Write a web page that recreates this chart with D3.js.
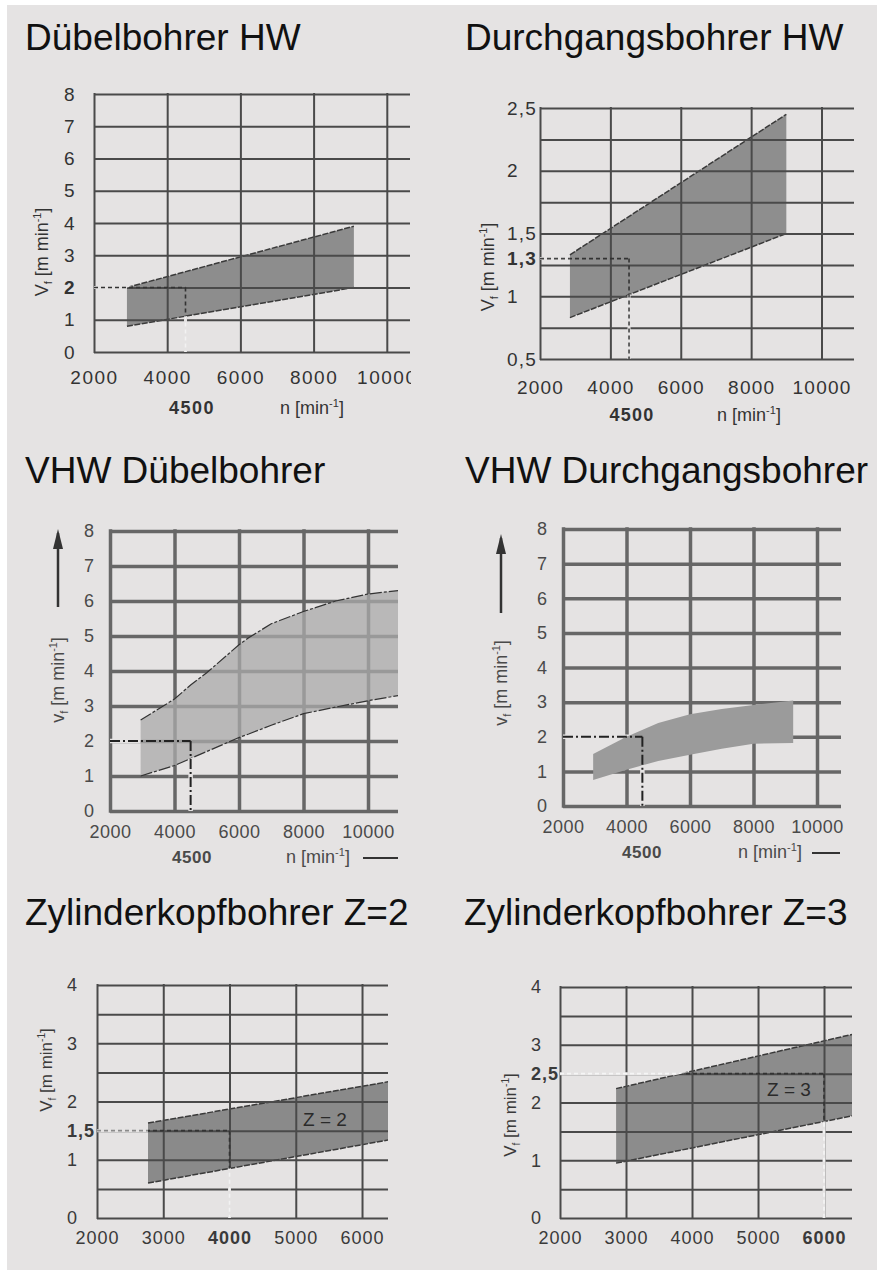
<!DOCTYPE html>
<html>
<head>
<meta charset="utf-8">
<script src="https://cdn.jsdelivr.net/npm/d3@7"></script>
<style>
  body { margin: 0; background: #fff; }
</style>
</head>
<body>
<svg id="chart" width="877" height="1270"></svg>
<script>
// ---- data ----
var xTicksWide = [2000, 4000, 6000, 8000, 10000];
var xTicksZyl = [2000, 3000, 4000, 5000, 6000];
var yGrid8 = [0, 1, 2, 3, 4, 5, 6, 7, 8];
var yGridDurch = [0.5, 0.75, 1, 1.25, 1.5, 1.75, 2, 2.25, 2.5];
var yLabelsDurch = [0.5, 1, 1.3, 1.5, 2, 2.5];
var yGridZyl = [0, 0.5, 1, 1.5, 2, 2.5, 3, 3.5, 4];
var yLabelsZyl2 = [0, 1, 1.5, 2, 3, 4];
var yLabelsZyl3 = [0, 1, 2, 2.5, 3, 4];

// Dübelbohrer HW
var duebelHW_n = [2900, 9100];
var duebelHW_lo = [0.8, 2.0];
var duebelHW_hi = [2.0, 3.9];
// Durchgangsbohrer HW
var durchHW_n = [2850, 9000];
var durchHW_lo = [0.83, 1.5];
var durchHW_hi = [1.33, 2.45];
// VHW Dübelbohrer
var vhwDuebel_n = [2950, 4000, 4500, 5000, 6000, 6300, 7000, 8000, 9000, 10000, 10950];
var vhwDuebel_lo = [1.0, 1.3, 1.5, 1.7, 2.1, 2.2, 2.45, 2.78, 2.97, 3.15, 3.3];
var vhwDuebel_hi = [2.6, 3.2, 3.6, 3.95, 4.75, 4.95, 5.35, 5.7, 6.0, 6.2, 6.3];
// VHW Durchgangsbohrer
var vhwDurch_n = [2950, 4000, 5000, 6000, 7000, 8000, 9250];
var vhwDurch_lo = [0.75, 1.05, 1.3, 1.48, 1.65, 1.8, 1.82];
var vhwDurch_hi = [1.5, 2.0, 2.4, 2.65, 2.8, 2.92, 3.05];
// Zylinderkopfbohrer Z=2
var zyl2_n = [2770, 6400];
var zyl2_lo = [0.6, 1.34];
var zyl2_hi = [1.63, 2.34];
// Zylinderkopfbohrer Z=3
var zyl3_n = [2850, 6430];
var zyl3_lo = [0.95, 1.77];
var zyl3_hi = [2.24, 3.18];

var FONT = "'Liberation Sans', Arial, Helvetica, sans-serif";
var BG = "#e5e3e3";

var svg = d3.select("#chart");
var defs = svg.append("defs");

// arrow head for the v_f axis arrow
defs.append("marker")
    .attr("id", "arrowhead")
    .attr("viewBox", "0 0 20 10")
    .attr("refX", 16).attr("refY", 5)
    .attr("markerWidth", 20).attr("markerHeight", 10)
    .attr("markerUnits", "userSpaceOnUse")
    .attr("orient", "auto")
    .append("path")
    .attr("d", "M0,0 L20,5 L0,10 Z")
    .attr("fill", "#333");

// background
svg.append("rect").attr("x", 0).attr("y", 0).attr("width", 877).attr("height", 1270).attr("fill", "#fff");
svg.append("rect").attr("x", 7).attr("y", 5).attr("width", 870).attr("height", 1265).attr("fill", BG);

function fmtComma(d) { return String(d).replace(".", ","); }

function drawPanel(p) {
    var x = d3.scaleLinear().domain(p.xDomain).range([p.left, p.right]);
    var y = d3.scaleLinear().domain(p.yDomain).range([p.bottom, p.top]);
    var g = svg.append("g");

    // title
    g.append("text")
        .attr("x", p.titleX).attr("y", p.titleY)
        .attr("font-family", FONT).attr("font-size", 37)
        .attr("fill", "#111")
        .text(p.title);

    var band = p.n.map(function(n, i) { return {n: n, lo: p.lo[i], hi: p.hi[i]}; });
    var area = d3.area()
        .x(function(d) { return x(d.n); })
        .y0(function(d) { return y(d.lo); })
        .y1(function(d) { return y(d.hi); });

    var plotClip = "plot" + p.id, bandClip = "band" + p.id, outMask = "out" + p.id;
    defs.append("clipPath").attr("id", plotClip).append("rect")
        .attr("x", p.left).attr("y", p.top - 3)
        .attr("width", p.right - p.left).attr("height", p.bottom - p.top + 6);
    defs.append("clipPath").attr("id", bandClip).append("path").attr("d", area(band));
    var m = defs.append("mask").attr("id", outMask)
        .attr("maskUnits", "userSpaceOnUse")
        .attr("x", 0).attr("y", 0).attr("width", 877).attr("height", 1270);
    m.append("rect").attr("width", 877).attr("height", 1270).attr("fill", "#fff");
    m.append("path").attr("d", area(band)).attr("fill", "#000");

    function grid() {
        var gy = g.append("g")
            .attr("transform", "translate(" + p.left + ",0)")
            .call(d3.axisLeft(y).tickValues(p.yGrid).tickSize(-(p.right - p.left)).tickFormat(""));
        gy.select(".domain").remove();
        gy.selectAll("line").attr("stroke", p.gridColor).attr("stroke-width", p.gridWidth);
        var gx = g.append("g")
            .attr("transform", "translate(0," + p.bottom + ")")
            .call(d3.axisBottom(x).tickValues(p.xTicks).tickSize(-(p.bottom - p.top)).tickFormat(""));
        gx.select(".domain").remove();
        gx.selectAll("line").attr("stroke", p.gridColor).attr("stroke-width", p.gridWidth)
            .attr("stroke-linecap", "square");
    }

    function drawBand() {
        g.append("path")
            .datum(band)
            .attr("d", area)
            .attr("fill", p.fill)
            .attr("fill-opacity", p.fillOpacity)
            .attr("clip-path", "url(#" + plotClip + ")");
        if (p.edge) {
            ["hi", "lo"].forEach(function(k) {
                g.append("path")
                    .datum(band)
                    .attr("d", d3.line().x(function(d) { return x(d.n); }).y(function(d) { return y(d[k]); }))
                    .attr("fill", "none")
                    .attr("stroke", p.edge.color)
                    .attr("stroke-width", p.edge.width)
                    .attr("stroke-dasharray", p.edge.dash)
                    .attr("clip-path", "url(#" + plotClip + ")");
            });
        }
    }

    if (p.gridOnTop) { drawBand(); grid(); } else { grid(); drawBand(); }

    // reference lines (reading example)
    var segs = [
        {x1: x(p.xDomain[0]), x2: x(p.ref.n), y1: y(p.ref.v), y2: y(p.ref.v), color: p.refH},
        {x1: x(p.ref.n), x2: x(p.ref.n), y1: y(p.ref.v), y2: y(p.yDomain[0]), color: p.refV}
    ];
    var rg = g.append("g");
    rg.selectAll(null).data(segs).enter().append("line")
        .attr("x1", function(d) { return d.x1; }).attr("x2", function(d) { return d.x2; })
        .attr("y1", function(d) { return d.y1; }).attr("y2", function(d) { return d.y2; })
        .attr("stroke", BG).attr("stroke-width", p.gridWidth + 1)
        .attr("mask", "url(#" + outMask + ")");
    rg.selectAll(null).data(segs).enter().append("line")
        .attr("x1", function(d) { return d.x1; }).attr("x2", function(d) { return d.x2; })
        .attr("y1", function(d) { return d.y1; }).attr("y2", function(d) { return d.y2; })
        .attr("stroke", function(d) { return d.color; })
        .attr("stroke-width", p.refWidth)
        .attr("stroke-dasharray", p.refDash)
        .attr("mask", "url(#" + outMask + ")");
    rg.selectAll(null).data(segs).enter().append("line")
        .attr("x1", function(d) { return d.x1; }).attr("x2", function(d) { return d.x2; })
        .attr("y1", function(d) { return d.y1; }).attr("y2", function(d) { return d.y2; })
        .attr("stroke", p.refIn)
        .attr("stroke-width", p.refWidth)
        .attr("stroke-dasharray", p.refDash)
        .attr("clip-path", "url(#" + bandClip + ")");

    // x tick labels
    var xl = g.append("g")
        .attr("transform", "translate(0," + p.bottom + ")")
        .call(d3.axisBottom(x).tickValues(p.xTicks).tickSize(0).tickFormat(d3.format("d")));
    xl.select(".domain").remove();
    xl.selectAll("text")
        .attr("y", p.xLabelY).attr("dy", null)
        .attr("font-family", FONT).attr("font-size", p.tickSize)
        .attr("letter-spacing", p.tickSpacing)
        .attr("fill", p.tickColor)
        .attr("font-weight", function(d) { return p.xBold.indexOf(d) >= 0 ? "bold" : null; });
    if (p.labelClip) {
        defs.append("clipPath").attr("id", "lab" + p.id).append("rect")
            .attr("x", 0).attr("y", -5).attr("width", p.labelClip).attr("height", 60);
        xl.attr("clip-path", "url(#lab" + p.id + ")");
    }

    // y tick labels
    var yl = g.append("g")
        .attr("transform", "translate(" + p.left + ",0)")
        .call(d3.axisLeft(y).tickValues(p.yLabels).tickSize(0).tickFormat(p.yFmt || fmtComma));
    yl.select(".domain").remove();
    yl.selectAll("text")
        .attr("x", p.yLabelX - p.left).attr("text-anchor", "start")
        .attr("font-family", FONT).attr("font-size", p.tickSize)
        .attr("letter-spacing", p.tickSpacing)
        .attr("fill", p.tickColor)
        .attr("font-weight", function(d) { return p.yBold.indexOf(d) >= 0 ? "bold" : null; });

    // sub label "4500" and unit
    if (p.sub) {
        g.append("text")
            .attr("x", p.sub.x).attr("y", p.sub.y)
            .attr("text-anchor", "middle")
            .attr("font-family", FONT).attr("font-size", p.tickSize - 1)
            .attr("letter-spacing", p.tickSpacing)
            .attr("font-weight", "bold").attr("fill", p.tickColor)
            .text(p.sub.text);
    }
    if (p.unit) {
        var ut = g.append("text")
            .attr("x", p.unit.x).attr("y", p.unit.y)
            .attr("text-anchor", "middle")
            .attr("font-family", FONT).attr("font-size", 18)
            .attr("fill", p.tickColor);
        ut.append("tspan").text("n [min");
        ut.append("tspan").attr("dy", -7).attr("font-size", 11).text("-1");
        ut.append("tspan").attr("dy", 7).text("]");
        if (p.unit.dash) {
            g.append("line")
                .attr("x1", p.unit.dash[0]).attr("x2", p.unit.dash[1])
                .attr("y1", p.unit.y - 5).attr("y2", p.unit.y - 5)
                .attr("stroke", "#333").attr("stroke-width", 2);
        }
    }

    // y axis title
    var yt = g.append("text")
        .attr("transform", "translate(" + p.yTitle.x + "," + p.yTitle.y + ") rotate(-90)")
        .attr("text-anchor", "middle")
        .attr("font-family", FONT).attr("font-size", p.yTitle.size)
        .attr("fill", p.tickColor);
    yt.append("tspan").text(p.yTitle.v);
    yt.append("tspan").attr("dy", 4).attr("font-size", p.yTitle.size * 0.6).text("f");
    yt.append("tspan").attr("dy", -4).text(" [m min");
    yt.append("tspan").attr("dy", -7).attr("font-size", p.yTitle.size * 0.6).text("-1");
    yt.append("tspan").attr("dy", 7).text("]");

    if (p.arrow) {
        g.append("line")
            .attr("x1", p.arrow.x).attr("x2", p.arrow.x)
            .attr("y1", p.arrow.y1).attr("y2", p.arrow.y0)
            .attr("stroke", "#333").attr("stroke-width", 2.5)
            .attr("marker-end", "url(#arrowhead)");
    }

    if (p.zLabel) {
        g.append("text")
            .attr("x", p.zLabel.x).attr("y", p.zLabel.y)
            .attr("text-anchor", "middle")
            .attr("font-family", FONT).attr("font-size", 19)
            .attr("fill", "#2a2a2a")
            .text(p.zLabel.text);
    }
}

var hwEdge = {color: "#3a3a3a", width: 1.5, dash: "6,1.5"};

drawPanel({
    id: 1, title: "Dübelbohrer HW", titleX: 25, titleY: 50,
    left: 94, right: 410, top: 94, bottom: 352,
    xDomain: [2000, 10634], yDomain: [0, 8],
    xTicks: xTicksWide, yGrid: yGrid8, yLabels: yGrid8,
    xBold: [], yBold: [2],
    n: duebelHW_n, lo: duebelHW_lo, hi: duebelHW_hi,
    fill: "#8d8d8d", fillOpacity: 1, edge: hwEdge, gridOnTop: true,
    gridColor: "#4a4a4a", gridWidth: 2,
    ref: {n: 4500, v: 2}, refH: "#333", refV: "#f2f2f2", refIn: "#333", refWidth: 1.6, refDash: "4,3",
    tickSize: 19, tickSpacing: 1.5, tickColor: "#333",
    xLabelY: 32, yLabelX: 64, labelClip: 411,
    sub: {text: "4500", x: 192, y: 414}, unit: {x: 312, y: 414},
    yTitle: {v: "V", x: 48, y: 252, size: 18}
});

drawPanel({
    id: 2, title: "Durchgangsbohrer HW", titleX: 465, titleY: 50,
    left: 540, right: 854, top: 108, bottom: 359,
    xDomain: [2000, 10923], yDomain: [0.5, 2.5],
    xTicks: xTicksWide, yGrid: yGridDurch, yLabels: yLabelsDurch,
    xBold: [], yBold: [1.3],
    n: durchHW_n, lo: durchHW_lo, hi: durchHW_hi,
    fill: "#8e8e8e", fillOpacity: 1, edge: hwEdge, gridOnTop: true,
    gridColor: "#4a4a4a", gridWidth: 2,
    ref: {n: 4530, v: 1.3}, refH: "#444", refV: "#444", refIn: "#333", refWidth: 1.6, refDash: "4,3",
    tickSize: 19, tickSpacing: 1.2, tickColor: "#333",
    xLabelY: 35, yLabelX: 507,
    sub: {text: "4500", x: 632, y: 421}, unit: {x: 749, y: 421},
    yTitle: {v: "V", x: 494, y: 267, size: 18}
});

drawPanel({
    id: 3, title: "VHW Dübelbohrer", titleX: 25, titleY: 483,
    left: 110, right: 398, top: 531, bottom: 811,
    xDomain: [2000, 10930], yDomain: [0, 8],
    xTicks: xTicksWide, yGrid: yGrid8, yLabels: yGrid8,
    xBold: [], yBold: [],
    n: vhwDuebel_n, lo: vhwDuebel_lo, hi: vhwDuebel_hi,
    fill: "#a9a9a9", fillOpacity: 0.75, edge: {color: "#333", width: 1.2, dash: "12,2,3,2"}, gridOnTop: false,
    gridColor: "#676767", gridWidth: 3.5,
    ref: {n: 4500, v: 2}, refH: "#222", refV: "#222", refIn: "#222", refWidth: 2, refDash: "10,3,2,3",
    tickSize: 18, tickSpacing: 0.5, tickColor: "#4a4a4a",
    xLabelY: 27, yLabelX: 84,
    sub: {text: "4500", x: 192, y: 863}, unit: {x: 318, y: 863, dash: [363, 398]},
    yTitle: {v: "v", x: 64, y: 680, size: 18},
    arrow: {x: 58, y0: 533, y1: 607}
});

drawPanel({
    id: 4, title: "VHW Durchgangsbohrer", titleX: 465, titleY: 483,
    left: 563, right: 841, top: 529, bottom: 806,
    xDomain: [2000, 10756], yDomain: [0, 8],
    xTicks: xTicksWide, yGrid: yGrid8, yLabels: yGrid8,
    xBold: [], yBold: [],
    n: vhwDurch_n, lo: vhwDurch_lo, hi: vhwDurch_hi,
    fill: "#9b9b9b", fillOpacity: 1, edge: null, gridOnTop: false,
    gridColor: "#676767", gridWidth: 3.5,
    ref: {n: 4500, v: 2}, refH: "#222", refV: "#222", refIn: "#222", refWidth: 2, refDash: "10,3,2,3",
    tickSize: 18, tickSpacing: 0.5, tickColor: "#4a4a4a",
    xLabelY: 27, yLabelX: 537,
    sub: {text: "4500", x: 642, y: 858}, unit: {x: 770, y: 858, dash: [812, 840]},
    yTitle: {v: "v", x: 507, y: 683, size: 18},
    arrow: {x: 501, y0: 538, y1: 613}
});

drawPanel({
    id: 5, title: "Zylinderkopfbohrer Z=2", titleX: 25, titleY: 925,
    left: 97, right: 388, top: 985, bottom: 1218,
    xDomain: [2000, 6392], yDomain: [0, 4],
    xTicks: xTicksZyl, yGrid: yGridZyl, yLabels: yLabelsZyl2,
    xBold: [4000], yBold: [1.5],
    n: zyl2_n, lo: zyl2_lo, hi: zyl2_hi,
    fill: "#8a8a8a", fillOpacity: 1, edge: hwEdge, gridOnTop: true,
    gridColor: "#4a4a4a", gridWidth: 2,
    ref: {n: 4000, v: 1.5}, refH: "#8a8a8a", refV: "#f2f2f2", refIn: "#333", refWidth: 1.6, refDash: "4,3",
    tickSize: 18, tickSpacing: 1, tickColor: "#3a3a3a",
    xLabelY: 26, yLabelX: 67,
    yTitle: {v: "V", x: 52, y: 1070, size: 17},
    zLabel: {text: "Z = 2", x: 325, y: 1126}
});

drawPanel({
    id: 6, title: "Zylinderkopfbohrer Z=3", titleX: 464, titleY: 925,
    left: 560, right: 852, top: 987, bottom: 1218,
    xDomain: [2000, 6424], yDomain: [0, 4],
    xTicks: xTicksZyl, yGrid: yGridZyl, yLabels: yLabelsZyl3,
    xBold: [6000], yBold: [2.5],
    n: zyl3_n, lo: zyl3_lo, hi: zyl3_hi,
    fill: "#8c8c8c", fillOpacity: 1, edge: hwEdge, gridOnTop: true,
    gridColor: "#4a4a4a", gridWidth: 2,
    ref: {n: 6000, v: 2.5}, refH: "#f5f5f5", refV: "#f5f5f5", refIn: "#333", refWidth: 1.6, refDash: "4,3",
    tickSize: 18, tickSpacing: 1, tickColor: "#3a3a3a",
    xLabelY: 26, yLabelX: 531,
    yTitle: {v: "V", x: 516, y: 1115, size: 17},
    zLabel: {text: "Z = 3", x: 789, y: 1096}
});
</script>
</body>
</html>
